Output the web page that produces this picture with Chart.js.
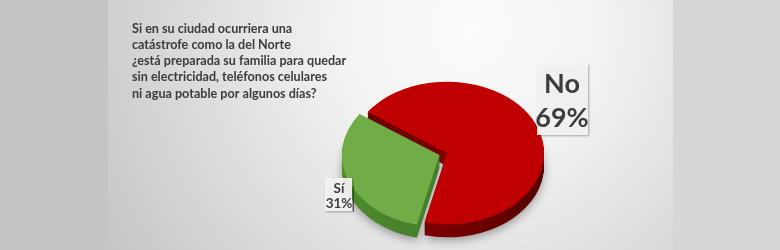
<!DOCTYPE html>
<html>
<head>
<meta charset="utf-8">
<script src="https://cdn.jsdelivr.net/npm/chart.js@4.4.1/dist/chart.umd.min.js"></script>
<style>
  html, body { margin: 0; padding: 0; background: #c4c4c4; }
  #wrap { width: 780px; height: 250px; position: relative; }
  canvas { display: block; }
</style>
</head>
<body>
<div id="wrap"><canvas id="c" width="780" height="250"></canvas></div>
<script>
// ---- data ----
const categories = ['No', 'Sí'];
const values = [69, 31];
const questionLines = [
  'Si en su ciudad ocurriera una',
  'catástrofe como la del Norte',
  '¿está preparada su familia para quedar',
  'sin electricidad, teléfonos celulares',
  'ni agua potable por algunos días?'
];

// ---- rendering settings ----
const TILT = 0.735;   // vertical squash of the pie
const DEPTH = 13;     // thickness of the pie in px
const TEXT_COLOR = '#3c3c3c';
const FONT = 'Lato, "Open Sans", "DejaVu Sans", sans-serif';

function flatten(ctx, x, y) {
  ctx.translate(x, y);
  ctx.scale(1, TILT);
  ctx.translate(-x, -y);
}

const backgroundPlugin = {
  id: 'bg',
  beforeDraw(chart) {
    const ctx = chart.ctx;
    ctx.save();
    ctx.fillStyle = '#c4c4c4';
    ctx.fillRect(0, 0, 108, 250);
    const g = ctx.createRadialGradient(470, 30, 0, 470, 30, 430);
    g.addColorStop(0, '#fbfbfb');
    g.addColorStop(0.3, '#f3f3f3');
    g.addColorStop(1, '#c4c4c4');
    ctx.fillStyle = g;
    ctx.fillRect(108, 0, 565, 250);
    ctx.fillStyle = '#d6d6d6';
    ctx.fillRect(673, 0, 107, 250);
    ctx.restore();
  }
};

const wallColors = {
  0: ['#5c0000', '#7a0000', '#560000'],
  1: ['#4f8d31', '#467f2b', '#3b6d24']
};

const pie3dPlugin = {
  id: 'pie3d',
  beforeDatasetsDraw(chart) {
    const ctx = chart.ctx;
    const meta = chart.getDatasetMeta(0);
    const arcs = meta.data;
    if (!arcs.length) return;
    const cx = arcs[0].x, cy = arcs[0].y;
    const r = arcs[0].outerRadius;
    // side walls (drawn from the arcs of the library, shifted down)
    for (let d = DEPTH; d >= 1; d--) {
      arcs.forEach((arc, i) => {
        const stops = wallColors[i];
        ctx.save();
        if (d === DEPTH) {
          ctx.shadowColor = 'rgba(0,0,0,0.35)';
          ctx.shadowBlur = 10;
          ctx.shadowOffsetY = 3;
        }
        ctx.translate(0, d);
        flatten(ctx, cx, cy);
        const g = ctx.createLinearGradient(cx - r - 20, 0, cx + r, 0);
        g.addColorStop(0, stops[0]);
        g.addColorStop(0.5, stops[1]);
        g.addColorStop(1, stops[2]);
        const saved = arc.options;
        arc.options = Object.assign({}, saved, { backgroundColor: g, borderColor: g, borderWidth: 0 });
        arc.draw(ctx);
        arc.options = saved;
        ctx.restore();
      });
    }
    // tops: squash the library's own drawing
    ctx.save();
    flatten(ctx, cx, cy);
  },
  afterDatasetsDraw(chart) {
    chart.ctx.restore();
  }
};

const textPlugin = {
  id: 'texts',
  afterDraw(chart) {
    const ctx = chart.ctx;
    ctx.save();
    // question
    ctx.fillStyle = TEXT_COLOR;
    ctx.font = 'bold 12.6px ' + FONT;
    ctx.textBaseline = 'alphabetic';
    ctx.textAlign = 'left';
    questionLines.forEach((line, i) => {
      ctx.fillText(line, 132, 32.5 + i * 16.3);
    });

    // data label boxes
    const boxes = [
      { x: 537, y: 64, w: 51, h: 71, size: 27, cx: 562, b1: 93, b2: 127 },
      { x: 325, y: 178, w: 27, h: 33, size: 13.5, cx: 339, b1: 193, b2: 208 }
    ];
    boxes.forEach((b, i) => {
      ctx.save();
      ctx.shadowColor = 'rgba(0,0,0,0.35)';
      ctx.shadowBlur = 2;
      ctx.shadowOffsetX = 1;
      ctx.shadowOffsetY = 1;
      ctx.fillStyle = 'rgba(246,246,246,0.92)';
      ctx.fillRect(b.x, b.y, b.w, b.h);
      ctx.restore();
      ctx.fillStyle = TEXT_COLOR;
      ctx.textAlign = 'center';
      ctx.font = 'bold ' + b.size + 'px ' + FONT;
      ctx.fillText(categories[i], b.cx, b.b1);
      ctx.fillText(values[i] + '%', b.cx, b.b2);
    });
    // leader line for the small slice
    ctx.strokeStyle = 'rgba(50,60,40,0.75)';
    ctx.lineWidth = 1;
    ctx.beginPath();
    ctx.moveTo(353.5, 186);
    ctx.lineTo(353.5, 212);
    ctx.stroke();
    ctx.restore();
  }
};

new Chart(document.getElementById('c'), {
  type: 'pie',
  data: {
    labels: categories,
    datasets: [{
      data: values,
      backgroundColor: ['#c00000', '#70ad47'],
      borderWidth: 0,
      offset: [0, 32],
      radius: 97,
      rotation: -55,
      clip: false
    }]
  },
  options: {
    responsive: false,
    devicePixelRatio: 1,
    animation: false,
    events: [],
    layout: { padding: { left: 214, right: 100, top: 56, bottom: 0 } },
    plugins: {
      legend: { display: false },
      tooltip: { enabled: false },
      title: { display: false }
    }
  },
  plugins: [backgroundPlugin, pie3dPlugin, textPlugin]
});
</script>
</body>
</html>
